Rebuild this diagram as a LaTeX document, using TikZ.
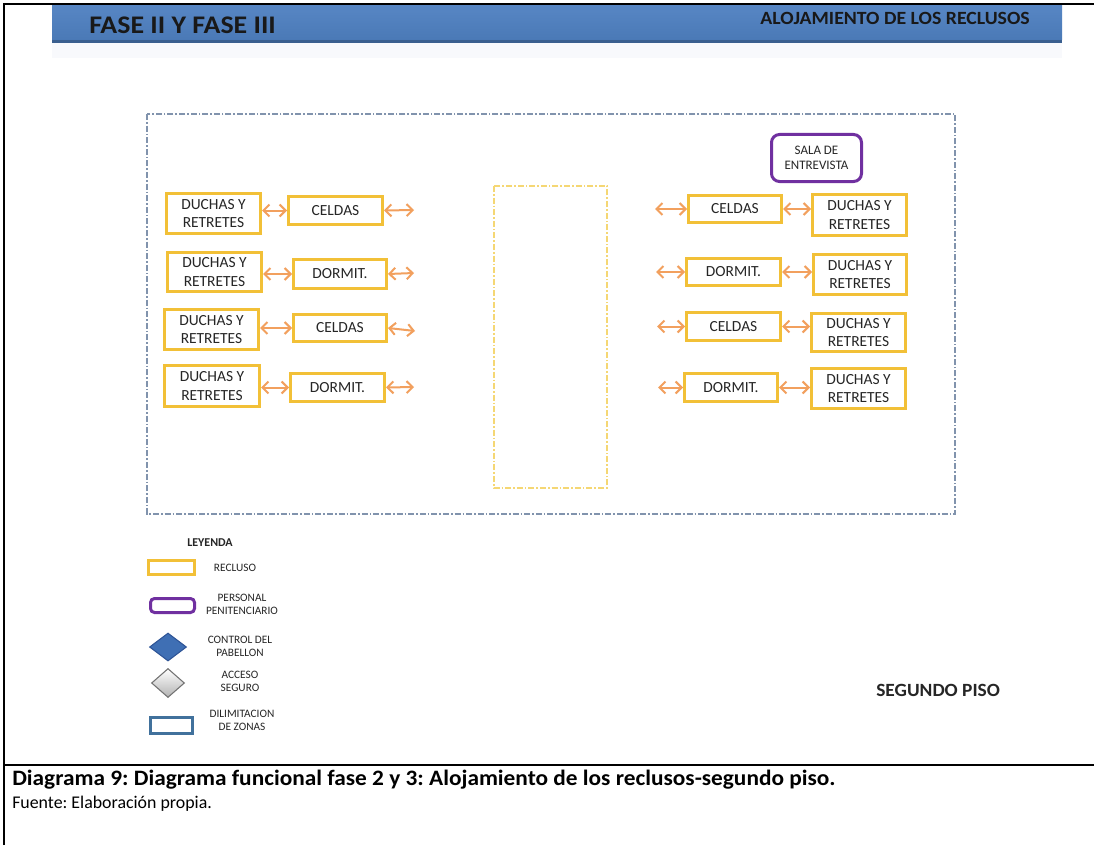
\documentclass[tikz,border=0pt]{standalone}
\usepackage{fontspec}
\setmainfont{Carlito}
\usetikzlibrary{arrows.meta,shapes.geometric}
\frenchspacing
\definecolor{gold}{HTML}{F2C037}
\definecolor{arrowc}{HTML}{F2A05E}
\definecolor{purp}{HTML}{7030A0}
\definecolor{frame}{HTML}{8193AD}
\definecolor{midy}{HTML}{F5D774}
\definecolor{hbtop}{HTML}{5786C4}
\definecolor{hbbot}{HTML}{4A79B6}
\definecolor{hbdark}{HTML}{3A5F8F}
\definecolor{txt}{HTML}{262626}
\definecolor{ctlfill}{HTML}{3F6FB4}
\definecolor{ctldraw}{HTML}{2F5597}
\definecolor{zone}{HTML}{41719C}
\definecolor{shadowband}{HTML}{F8F9FC}
\tikzset{
  sz/.style n args={2}{minimum width=#1*0.75pt, minimum height=#2*0.75pt},
  recl/.style={draw=gold, line width=2.25pt, fill=white, inner sep=0pt, align=center, text=txt,
    font=\fontsize{11.6}{13.9}\selectfont},
  staff/.style={draw=purp, line width=2.25pt, fill=white, rounded corners=6pt, inner sep=0pt, align=center, text=txt},
  twoway/.style={draw=arrowc, line width=1.5pt,
    {Straight Barb[length=4.5pt,width=9pt]}-{Straight Barb[length=4.5pt,width=9pt]}},
  legtxt/.style={align=center, text=txt, inner sep=0pt, font=\fontsize{8.5}{9.6}\selectfont},
  plain/.style={inner sep=0pt, text=txt}
}
\begin{document}
\begin{tikzpicture}[x=0.75pt,y=-0.75pt]
\useasboundingbox (0,0) rectangle (1094,845);
\fill[white] (0,0) rectangle (1094,845);

% page frame lines
\draw[line width=1.5pt] (4,845) -- (4,4.5) -- (1094,4.5);
\draw[line width=1pt] (4,765) -- (1094,765);
\draw[line width=2pt] (4,765) -- (48,765);
\draw[line width=2pt] (1062,765) -- (1094,765);

% header bar
\fill[shadowband] (52,43) rectangle (1062,58);
\shade[top color=hbtop, bottom color=hbbot] (52,5.5) rectangle (1062,40);
\fill[hbdark] (52,40) rectangle (1062,43);
\node[plain, anchor=base west, font=\bfseries\fontsize{19}{22}\selectfont, text=black!90] (hdl) at (89,34)
  {\scalebox{1.1}[1]{FASE II Y FASE III}};
\node[plain, anchor=base east, font=\bfseries\fontsize{14}{17}\selectfont, text=black!90] (hdr) at (1030,25)
  {\scalebox{1.06}[1]{ALOJAMIENTO DE LOS RECLUSOS}};

% zone frames
\draw[frame, line width=0.8pt, dash pattern=on 4.5pt off 1.5pt on 1.2pt off 1.5pt] (147,114) rectangle (955,514);
\draw[midy, line width=0.8pt, dash pattern=on 4.5pt off 1.5pt on 1.2pt off 1.5pt] (494,186) rectangle (607,488);

% left wing
\node[recl, sz={94}{40}] (l1d) at (213.5,213.5) {DUCHAS Y\\RETRETES};
\node[recl, sz={94}{28}] (l1c) at (335.5,210.5) {CELDAS};
\node[recl, sz={94}{39}] (l2d) at (214.5,272) {DUCHAS Y\\RETRETES};
\node[recl, sz={93}{29}] (l2c) at (340,274) {DORMIT.};
\node[recl, sz={94}{40}] (l3d) at (211.5,329.5) {DUCHAS Y\\RETRETES};
\node[recl, sz={93}{27}] (l3c) at (340,328) {CELDAS};
\node[recl, sz={95}{41}] (l4d) at (212,386) {DUCHAS Y\\RETRETES};
\node[recl, sz={94}{28}] (l4c) at (337.5,387.5) {DORMIT.};

\coordinate (l1e) at (414,210);
\coordinate (l2e) at (414,273);
\coordinate (l3e) at (415,331);
\coordinate (l4e) at (414,387);
\draw[twoway] (l1c.west -| l1d.east) -- (l1c.west);
\draw[twoway] (l1c.east) -- (l1e);
\draw[twoway] (l2c.west -| l2d.east) -- (l2c.west);
\draw[twoway] (l2c.east) -- (l2e);
\draw[twoway] (l3c.west -| l3d.east) -- (l3c.west);
\draw[twoway] (l3c.east) -- (l3e);
\draw[twoway] (l4c.west -| l4d.east) -- (l4c.west);
\draw[twoway] (l4c.east) -- (l4e);

% right wing
\node[staff, sz={90}{47}, font=\fontsize{9.75}{11.25}\selectfont] (sala) at (816.5,158) {SALA DE\\ENTREVISTA};
\node[recl, sz={93}{27}] (r1c) at (735,209) {CELDAS};
\node[recl, sz={94}{41}] (r1d) at (859.5,215) {DUCHAS Y\\RETRETES};
\node[recl, sz={94}{27}] (r2c) at (733.5,272) {DORMIT.};
\node[recl, sz={93}{40}] (r2d) at (860,274.5) {DUCHAS Y\\RETRETES};
\node[recl, sz={94}{28}] (r3c) at (733.5,326.5) {CELDAS};
\node[recl, sz={94}{38}] (r3d) at (858.5,332.5) {DUCHAS Y\\RETRETES};
\node[recl, sz={93}{28}] (r4c) at (731,387.5) {DORMIT.};
\node[recl, sz={94}{40}] (r4d) at (858.5,388.5) {DUCHAS Y\\RETRETES};

\coordinate (r1e) at (655,209);
\coordinate (r2e) at (656,272);
\coordinate (r3e) at (657,326.5);
\coordinate (r4e) at (658,387.5);
\draw[twoway] (r1e) -- (r1c.west);
\draw[twoway] (r1c.east) -- (r1c.east -| r1d.west);
\draw[twoway] (r2e) -- (r2c.west);
\draw[twoway] (r2c.east) -- (r2c.east -| r2d.west);
\draw[twoway] (r3e) -- (r3c.west);
\draw[twoway] (r3c.east) -- (r3c.east -| r3d.west);
\draw[twoway] (r4e) -- (r4c.west);
\draw[twoway] (r4c.east) -- (r4c.east -| r4d.west);

% legend
\node[plain, font=\bfseries\fontsize{9}{10}\selectfont, anchor=base] (ley) at (210,546) {LEYENDA};
\node[recl, sz={46}{14}] (lg1) at (171.5,567.5) {};
\node[legtxt] (lg1t) at (235,568) {RECLUSO};
\node[staff, rounded corners=3pt, sz={44}{14}] (lg2) at (172.5,605.5) {};
\node[legtxt] (lg2t) at (242,604) {PERSONAL\\PENITENCIARIO};
\node[diamond, draw=ctldraw, fill=ctlfill, line width=0.8pt, inner sep=0pt, sz={37}{28}] (lg3) at (168,647) {};
\node[legtxt] (lg3t) at (240,646) {CONTROL DEL\\PABELLON};
\node[diamond, draw=black!55, top color=white, bottom color=black!30, line width=0.8pt, inner sep=0pt, sz={33}{29}] (lg4) at (168,683) {};
\node[legtxt] (lg4t) at (240,681) {ACCESO\\SEGURO};
\node[draw=zone, line width=2.25pt, inner sep=0pt, sz={42}{16}] (lg5) at (171.5,725.5) {};
\node[legtxt] (lg5t) at (242,720) {DILIMITACION\\DE ZONAS};

% floor label
\node[plain, anchor=base west, font=\bfseries\fontsize{14}{17}\selectfont] (piso) at (876,696)
  {\scalebox{1.04}[1]{SEGUNDO PISO}};

% caption
\node[plain, anchor=base west, text=black, font=\bfseries\fontsize{16.5}{19}\selectfont] (cap) at (12,785)
  {\scalebox{1.06}[1]{Diagrama 9: Diagrama funcional fase 2 y 3: Alojamiento de los reclusos-segundo piso.}};
\node[plain, anchor=base west, text=black, font=\fontsize{13.4}{16}\selectfont] (src) at (12,808)
  {Fuente: Elaboración propia.};
\end{tikzpicture}
\end{document}
